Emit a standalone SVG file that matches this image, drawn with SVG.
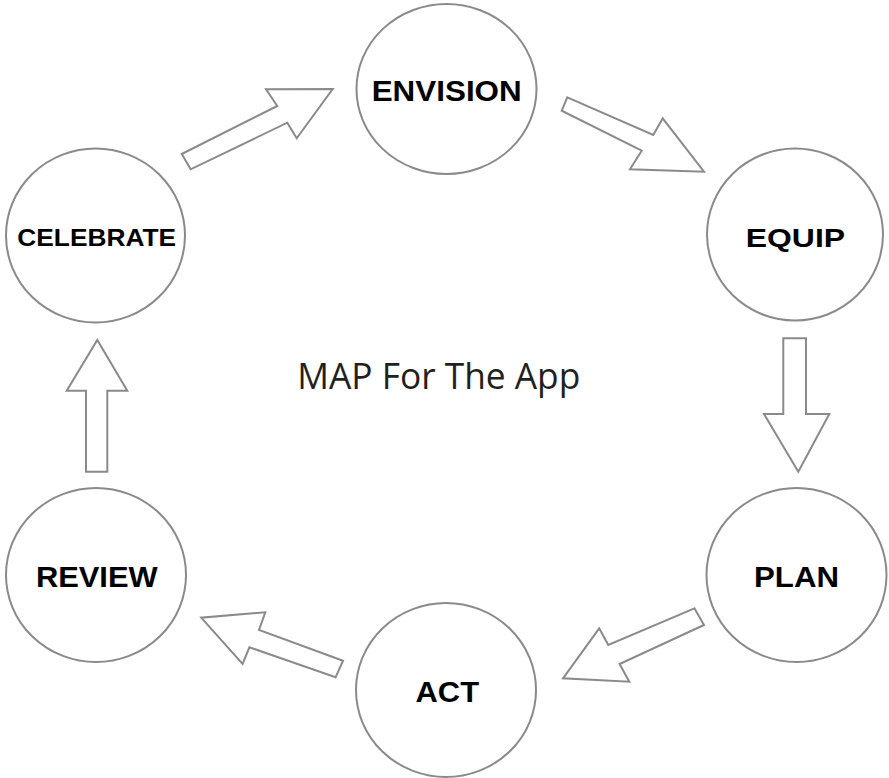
<svg xmlns="http://www.w3.org/2000/svg" width="889" height="778" viewBox="0 0 889 778">
<style>
.node ellipse{fill:#fff;stroke:#8a8a8a;stroke-width:2}
.node text{font-family:"Liberation Sans",Arial,sans-serif;font-weight:bold;fill:#000;text-anchor:middle}
#connectors polygon{fill:#fff;stroke:#8a8a8a;stroke-width:2;stroke-linejoin:miter}
.title{font-family:"Open Sans","Noto Sans",sans-serif;fill:#231f20}
</style>
<rect width="889" height="778" fill="#fff"/>
<g id="connectors">
<polygon points="181.7,154 277.3,106 266,89.3 332.7,89 296.7,138.3 287.3,122.7 190.7,169.3"/>
<polygon points="567.3,97.3 653.3,135 662.7,118.3 704,171.7 630,169.3 641.7,150.7 561.7,110.7"/>
<polygon points="783.3,338.3 806,338.3 806,414 829.3,414 798.3,471.7 764,414 783.3,414"/>
<polygon points="694.4,608.3 608.3,645 599.2,628.3 563,678.3 629.3,681.7 619.6,664 704,625"/>
<polygon points="343,660.7 259,630 265.3,612.3 201.2,617.7 242.6,664 249.4,647.3 335.6,677.3"/>
<polygon points="86,471.7 107.3,471.7 107.3,390.7 127.3,390.7 97.3,340 66.7,390.7 86,390.7"/>
</g>
<g id="envision" class="node">
<ellipse cx="446.5" cy="89" rx="90" ry="85"/>
<text x="446.7" y="100.7" font-size="29" textLength="150" lengthAdjust="spacingAndGlyphs">ENVISION</text>
</g>
<g id="equip" class="node">
<ellipse cx="795" cy="234.5" rx="88" ry="86"/>
<text x="795.4" y="247.3" font-size="26.5" textLength="99.3" lengthAdjust="spacingAndGlyphs">EQUIP</text>
</g>
<g id="plan" class="node">
<ellipse cx="796.5" cy="575" rx="90" ry="87"/>
<text x="796.5" y="586.7" font-size="29" textLength="85" lengthAdjust="spacingAndGlyphs">PLAN</text>
</g>
<g id="act" class="node">
<ellipse cx="446" cy="690" rx="90" ry="87"/>
<text x="447.3" y="701.7" font-size="29" textLength="63.5" lengthAdjust="spacingAndGlyphs">ACT</text>
</g>
<g id="review" class="node">
<ellipse cx="96" cy="575" rx="90" ry="87"/>
<text x="96.8" y="586.7" font-size="29" textLength="121.7" lengthAdjust="spacingAndGlyphs">REVIEW</text>
</g>
<g id="celebrate" class="node">
<ellipse cx="95.5" cy="235.5" rx="89.5" ry="87"/>
<text x="96.7" y="246" font-size="23.3" textLength="158.7" lengthAdjust="spacingAndGlyphs">CELEBRATE</text>
</g>
<g id="title">
<text class="title" x="297.3" y="389.3" font-size="36" textLength="283" lengthAdjust="spacingAndGlyphs">MAP For The App</text>
</g>
</svg>
